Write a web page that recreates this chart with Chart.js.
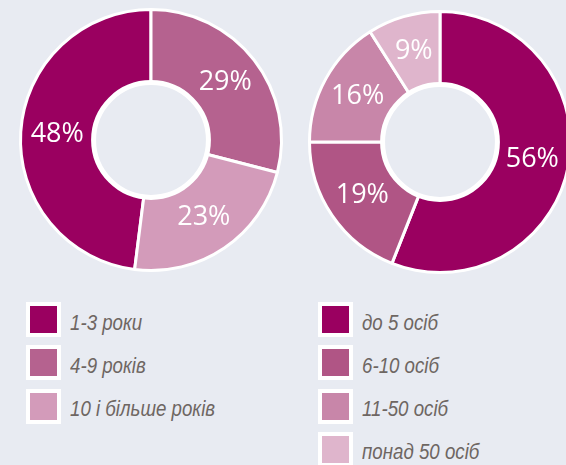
<!DOCTYPE html>
<html>
<head>
<meta charset="utf-8">
<script src="https://cdn.jsdelivr.net/npm/chart.js@4"></script>
<style>
  html, body { margin: 0; padding: 0; }
  body { width: 566px; height: 465px; background: #e8ebf2; overflow: hidden; position: relative; }
  .box { position: absolute; }
  .legend { position: absolute; list-style: none; margin: 0; padding: 0; }
  .legend li { height: 35px; margin-bottom: 8.3px; display: flex; align-items: center; }
  .legend .sw { width: 27px; height: 27px; border: 4px solid #fff; flex: none; }
  .legend span.t { margin-left: 9px; font-family: "Liberation Sans", Arial, sans-serif;
    font-style: italic; font-size: 22px; color: #6e6662; position: relative; top: 3px; white-space: nowrap;
    display: inline-block; transform: scaleX(0.85); transform-origin: left center; }
</style>
</head>
<body>
<div class="box" style="left:1px; top:0px; width:300px; height:280px;"><canvas id="leftChart"></canvas></div>
<div class="box" style="left:290px; top:2px; width:300px; height:280px;"><canvas id="rightChart"></canvas></div>
<ul class="legend" id="leftLegend" style="left:26px; top:302px;"></ul>
<ul class="legend" id="rightLegend" style="left:318px; top:302px;"></ul>
<script>
// experience (years) chart
const yearLabels = ['1-3 роки', '4-9 років', '10 і більше років'];
const yearValues = [48, 29, 23];
const yearColors = ['#9a0060', '#b5628f', '#d39bba'];

// company size chart
const sizeLabels = ['до 5 осіб', '6-10 осіб', '11-50 осіб', 'понад 50 осіб'];
const sizeValues = [56, 19, 16, 9];
const sizeColors = ['#9a0060', '#b05585', '#c886a9', '#dfb5cc'];

const pctLabels = {
    id: 'pctLabels',
    afterDatasetsDraw(chart) {
        const ctx = chart.ctx;
        const meta = chart.getDatasetMeta(0);
        const data = chart.data.datasets[0].data;
        ctx.save();
        // thicker white ring round the hole
        const a0 = meta.data[0];
        ctx.beginPath();
        ctx.arc(a0.x, a0.y, a0.innerRadius, 0, Math.PI * 2);
        ctx.lineWidth = 5;
        ctx.strokeStyle = '#fff';
        ctx.stroke();
        ctx.fillStyle = '#fff';
        ctx.font = '27px "Open Sans", sans-serif';
        ctx.textAlign = 'center';
        ctx.textBaseline = 'middle';
        meta.data.forEach((arc, i) => {
            const p = arc.tooltipPosition();
            ctx.fillText(data[i] + '%', p.x, p.y);
        });
        ctx.restore();
    }
};

function makeDonut(id, labels, values, colors, rotation) {
    return new Chart(document.getElementById(id).getContext('2d'), {
        type: 'doughnut',
        data: {labels: labels, datasets: [{data: values, backgroundColor: colors, borderColor: '#fff', borderWidth: 3}]},
        options: {
            responsive: true, maintainAspectRatio: false, animation: false,
            rotation: rotation, cutout: '44%',
            layout: {padding: 8},
            plugins: {legend: {display: false}, tooltip: {enabled: false}}
        },
        plugins: [pctLabels]
    });
}

function makeLegend(id, labels, colors) {
    const ul = document.getElementById(id);
    labels.forEach((l, i) => {
        const li = document.createElement('li');
        li.innerHTML = '<div class="sw" style="background:' + colors[i] + '"></div><span class="t">' + l + '</span>';
        ul.appendChild(li);
    });
}

const yearTotal = yearValues.reduce((a, b) => a + b, 0);
makeDonut('leftChart', yearLabels, yearValues, yearColors, -360 * yearValues[0] / yearTotal);
makeDonut('rightChart', sizeLabels, sizeValues, sizeColors, 0);
makeLegend('leftLegend', yearLabels, yearColors);
makeLegend('rightLegend', sizeLabels, sizeColors);
</script>
</body>
</html>
